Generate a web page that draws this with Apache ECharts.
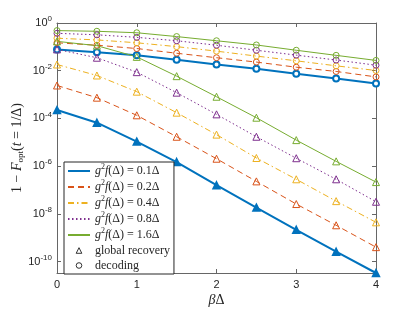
<!DOCTYPE html>
<html><head><meta charset="utf-8">
<script src="https://cdn.jsdelivr.net/npm/echarts@6/dist/echarts.min.js"></script>
<style>html,body{margin:0;padding:0;background:#fff}#c{width:415px;height:312px}</style>
</head><body><div id="c"></div>
<script>
// ---- data ----
const betaDelta = [0, 0.5, 1, 1.5, 2, 2.5, 3, 3.5, 4];
const couplings = ['0.1', '0.2', '0.4', '0.8', '1.6'];
// global recovery (triangles)
const recovery01 = [2.24e-4, 6.6e-5, 1.07e-5, 1.48e-6, 1.58e-7, 1.82e-8, 2.14e-9, 2.57e-10, 3.3e-11];
const recovery02 = [2.4e-3, 7.4e-4, 1.35e-4, 1.7e-5, 2.04e-6, 2.29e-7, 2.57e-8, 3.3e-9, 4.0e-10];
const recovery04 = [1.82e-2, 6.3e-3, 1.32e-3, 1.74e-4, 2.09e-5, 2.19e-6, 2.8e-7, 3.4e-8, 4.4e-9];
const recovery08 = [7.8e-2, 3.5e-2, 8.7e-3, 1.2e-3, 1.48e-4, 1.7e-5, 2.14e-6, 2.8e-7, 3.2e-8];
const recovery16 = [0.17, 0.112, 3.8e-2, 5.9e-3, 8.1e-4, 1.07e-4, 1.23e-5, 1.58e-6, 2.14e-7];
// decoding (circles)
const decoding01 = [0.078, 0.059, 0.044, 0.029, 0.018, 0.012, 0.0074, 0.0047, 0.0029];
const decoding02 = [0.148, 0.117, 0.085, 0.054, 0.035, 0.023, 0.014, 0.0093, 0.0055];
const decoding04 = [0.23, 0.195, 0.148, 0.102, 0.066, 0.041, 0.026, 0.016, 0.0102];
const decoding08 = [0.37, 0.32, 0.25, 0.18, 0.117, 0.072, 0.045, 0.028, 0.017];
const decoding16 = [0.48, 0.45, 0.39, 0.27, 0.18, 0.12, 0.072, 0.044, 0.027];
const yTickValues = [1e-10, 1e-8, 1e-6, 1e-4, 1e-2, 1];
const xTickValues = [0, 1, 2, 3, 4];
const legendOther = ['global recovery', 'decoding'];

// ---- styles ----
const recoveries = [recovery01, recovery02, recovery04, recovery08, recovery16];
const decodings = [decoding01, decoding02, decoding04, decoding08, decoding16];
const colors = ['#0072BD', '#D95319', '#EDB120', '#7E2F8E', '#77AC30'];
const dashes = ['solid', [6, 4], [6, 3, 1.5, 3], [1.5, 2.5], 'solid'];
const widths = [2, 1, 1, 1, 1];
const axisColor = '#666';
const textColor = '#262626';
const serif = 'Liberation Serif';
const sans = 'Liberation Sans';

const pairs = arr => betaDelta.map((x, i) => [x, arr[i]]);
const series = [];
couplings.forEach((c, k) => {
  const blue = k === 0;
  const lineStyle = { color: colors[k], width: widths[k], type: dashes[k] };
  series.push({
    type: 'line', name: 'rec' + k, data: pairs(recoveries[k]),
    symbol: 'triangle', symbolSize: 7,
    lineStyle: lineStyle,
    itemStyle: { color: blue ? colors[k] : 'transparent', borderColor: colors[k], borderWidth: blue ? 1.5 : 1 },
    emphasis: { disabled: true }, z: 3
  });
  series.push({
    type: 'line', name: 'dec' + k, data: pairs(decodings[k]),
    symbol: 'circle', symbolSize: 6,
    lineStyle: lineStyle,
    itemStyle: { color: blue ? '#fff' : 'transparent', borderColor: colors[k], borderWidth: blue ? 2 : 1 },
    emphasis: { disabled: true }, z: 3
  });
  series.push({
    type: 'line', name: 'L' + k, data: [], symbol: 'none', lineStyle: lineStyle
  });
});
series.push({ type: 'line', name: legendOther[0], data: [], symbol: 'triangle',
  lineStyle: { width: 0, opacity: 0 }, itemStyle: { color: '#fff', borderColor: '#000', borderWidth: 1 } });
series.push({ type: 'line', name: legendOther[1], data: [], symbol: 'circle',
  lineStyle: { width: 0, opacity: 0 }, itemStyle: { color: '#fff', borderColor: '#000', borderWidth: 1 } });

const markerLegendStyle = { color: '#fff', borderColor: '#000', borderWidth: 0.8 };
const legendData = couplings.map((c, k) => ({ name: 'L' + k, itemStyle: { opacity: 0 } }));
legendData.push({ name: legendOther[0], lineStyle: { opacity: 0 }, itemStyle: markerLegendStyle });
legendData.push({ name: legendOther[1], lineStyle: { opacity: 0 }, itemStyle: markerLegendStyle });

const legendFormatter = name => {
  if (name.charAt(0) === 'L' && name.length === 2) {
    const c = couplings[+name.charAt(1)];
    return '{i|g}{s|2}{i|f}{n|(Δ) = ' + c + 'Δ}';
  }
  return '{n|' + name + '}';
};

const yLabelFormatter = v => {
  const e = Math.round(Math.log10(v));
  return '{b|10}{e|' + e + '}';
};

const chart = echarts.init(document.getElementById('c'), null, { renderer: 'canvas' });
chart.setOption({
  animation: false,
  backgroundColor: '#fff',
  grid: { left: 57, right: 39, top: 23, bottom: 39, containLabel: false, outerBoundsMode: 'none' },
  xAxis: [{
    type: 'value', min: 0, max: 4, interval: 1,
    name: '{i|β}{n|Δ}', nameLocation: 'middle', nameGap: 20, nameMoveOverlap: false,
    nameTextStyle: { color: textColor, rich: {
      i: { fontFamily: serif, fontStyle: 'italic', fontSize: 14, color: textColor },
      n: { fontFamily: serif, fontSize: 14, color: textColor } } },
    axisLine: { lineStyle: { color: axisColor, width: 1 } },
    axisTick: { inside: true, length: 4, lineStyle: { color: axisColor } },
    axisLabel: { color: textColor, fontFamily: sans, fontSize: 11, margin: 6,
      customValues: xTickValues },
    splitLine: { show: false }
  }, {
    type: 'value', position: 'top', min: 0, max: 4, interval: 1,
    axisLine: { show: true, onZero: false, lineStyle: { color: axisColor, width: 1 } },
    axisTick: { inside: true, length: 4, lineStyle: { color: axisColor } },
    axisLabel: { show: false }, splitLine: { show: false }
  }],
  yAxis: [{
    type: 'log', logBase: 10, min: 3.3e-11, max: 1,
    name: '{n|1 − }{i|F}{sub|opt}{n|(}{i|t}{n| = 1/Δ)}', nameLocation: 'middle', nameGap: 32, nameRotate: 90,
    nameMoveOverlap: false,
    nameTextStyle: { color: textColor, rich: {
      n: { fontFamily: serif, fontSize: 14, lineHeight: 16, color: textColor },
      i: { fontFamily: serif, fontStyle: 'italic', fontSize: 14, lineHeight: 16, color: textColor },
      sub: { fontFamily: serif, fontSize: 9, lineHeight: 8, padding: [8, 0, 0, 0], color: textColor } } },
    axisLine: { show: true, onZero: false, lineStyle: { color: axisColor, width: 1 } },
    axisTick: { inside: true, length: 4, lineStyle: { color: axisColor }, customValues: yTickValues },
    axisLabel: { margin: 5, formatter: yLabelFormatter, customValues: yTickValues, rich: {
      b: { fontFamily: sans, fontSize: 11, lineHeight: 14, color: textColor },
      e: { fontFamily: sans, fontSize: 8, lineHeight: 6, padding: [0, 0, 8, 0], color: textColor } } },
    splitLine: { show: false }
  }, {
    type: 'log', logBase: 10, min: 3.3e-11, max: 1, position: 'right',
    axisLine: { show: true, onZero: false, lineStyle: { color: axisColor, width: 1 } },
    axisTick: { inside: true, length: 4, lineStyle: { color: axisColor }, customValues: yTickValues },
    axisLabel: { show: false }, splitLine: { show: false }
  }],
  legend: {
    orient: 'vertical', left: 64, top: 162,
    itemWidth: 22, itemHeight: 7, itemGap: 0,
    padding: [1, 4, 1, 3],
    backgroundColor: '#fff', borderColor: '#262626', borderWidth: 1,
    selectedMode: false,
    textStyle: { fontFamily: serif, fontSize: 12, lineHeight: 15, color: textColor, rich: {
      i: { fontFamily: serif, fontStyle: 'italic', fontSize: 12, lineHeight: 15, color: textColor },
      n: { fontFamily: serif, fontSize: 12, lineHeight: 15, color: textColor },
      s: { fontFamily: serif, fontSize: 8, lineHeight: 7, padding: [0, 0, 8, 0], color: textColor } } },
    formatter: legendFormatter,
    data: legendData
  },
  series: series
});
</script></body></html>
